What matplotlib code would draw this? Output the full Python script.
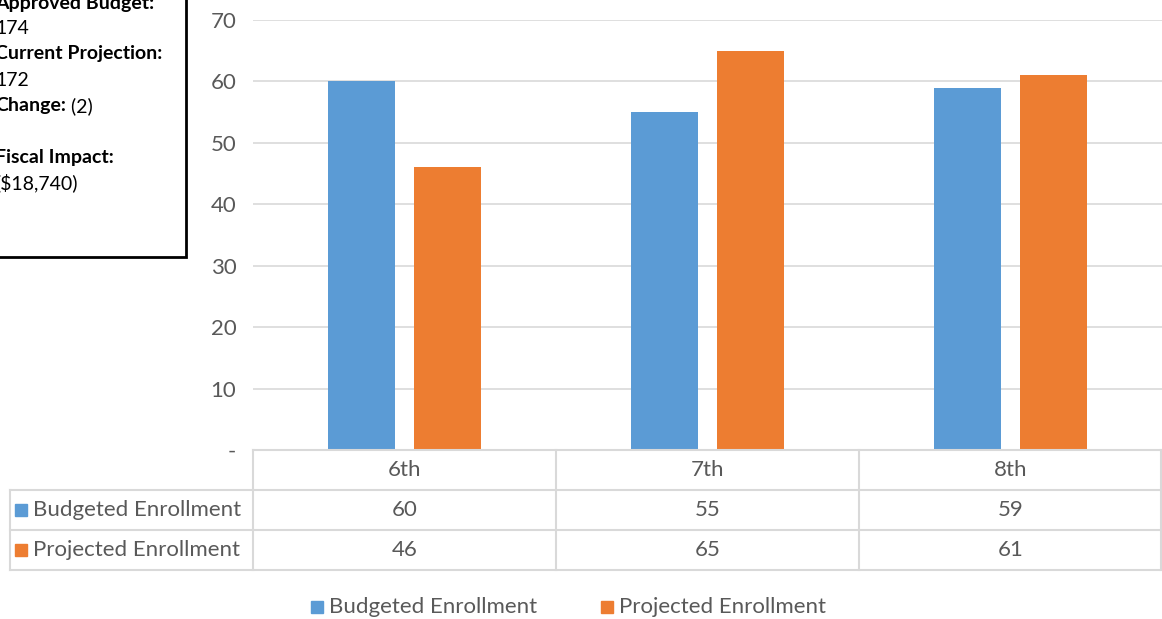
import matplotlib.pyplot as plt
import matplotlib.patches as mpatches
from matplotlib.lines import Line2D
import numpy as np

plt.rcParams['font.family'] = ['Lato', 'DejaVu Sans']

# datos
grados = ['6th', '7th', '8th']
budgeted = [60, 55, 59]
projected = [46, 65, 61]
series = ['Budgeted Enrollment', 'Projected Enrollment']
colores = ['#5B9BD5', '#ED7D31']
ticks = [0, 10, 20, 30, 40, 50, 60, 70]
tick_labels = ['-', '10', '20', '30', '40', '50', '60', '70']
caja = [('Approved Budget:', ''), ('', '174'), ('Current Projection:', ''), ('', '172'),
        ('Change:', ' (2)'), ('', ''), ('Fiscal Impact:', ''), ('', '($18,740)')]

W, H = 1162, 619
gris = '#595959'
linea = '#D9D9D9'
fs = 16

fig = plt.figure(figsize=(W / 100, H / 100), dpi=100)


def fx(px):
    return px / W


def fy(py):
    return 1 - py / H


ax = fig.add_axes([fx(253), fy(450), fx(1162 - 253), fy(20) - fy(450)])
x = np.arange(len(grados))
ancho = 0.22
ax.bar(x - 0.142, budgeted, ancho, color=colores[0])
ax.bar(x + 0.142, projected, ancho, color=colores[1])
ax.set_xlim(-0.5, len(grados) - 0.5)
ax.set_ylim(0, 70)
ax.set_yticks(ticks)
ax.set_yticklabels(tick_labels)
ax.set_xticks([])
ax.tick_params(axis='y', length=0, pad=12, labelsize=fs, labelcolor=gris)
ax.grid(axis='y', color=linea, linewidth=1.2)
ax.set_axisbelow(True)
for s in ax.spines.values():
    s.set_visible(False)

# tabla de datos
col_x = [253, 556, 859, 1162]
filas_y = [450, 490, 530, 570]
kw = dict(color=linea, linewidth=1.5, transform=fig.transFigure)
fig.add_artist(Line2D([fx(253), fx(1162)], [fy(450), fy(450)], **kw))
for yy in filas_y[1:]:
    fig.add_artist(Line2D([fx(10), fx(1162)], [fy(yy), fy(yy)], **kw))
fig.add_artist(Line2D([fx(10), fx(10)], [fy(490), fy(570)], **kw))
for xx in col_x[:-1]:
    fig.add_artist(Line2D([fx(xx), fx(xx)], [fy(450), fy(570)], **kw))
fig.add_artist(Line2D([fx(1161), fx(1161)], [fy(450), fy(570)], **kw))

for i, g in enumerate(grados):
    cx = (col_x[i] + col_x[i + 1]) / 2
    fig.text(fx(cx), fy(470), g, ha='center', va='center', fontsize=fs, color=gris)
    fig.text(fx(cx), fy(510), str(budgeted[i]), ha='center', va='center', fontsize=fs, color=gris)
    fig.text(fx(cx), fy(550), str(projected[i]), ha='center', va='center', fontsize=fs, color=gris)

for j, (nombre, c) in enumerate(zip(series, colores)):
    yc = 510 + 40 * j
    fig.add_artist(mpatches.Rectangle((fx(15), fy(yc + 6)), fx(12), fy(yc - 6) - fy(yc + 6),
                                      color=c, transform=fig.transFigure))
    fig.text(fx(33), fy(yc), nombre, ha='left', va='center', fontsize=fs, color=gris)

# leyenda
leg_items = [(311, series[0], colores[0]), (601, series[1], colores[1])]
for lx, nombre, c in leg_items:
    fig.add_artist(mpatches.Rectangle((fx(lx), fy(613)), fx(12), fy(601) - fy(613),
                                      color=c, transform=fig.transFigure))
    fig.text(fx(lx + 18), fy(607), nombre, ha='left', va='center', fontsize=fs, color=gris)

# caja de texto
fig.add_artist(mpatches.Rectangle((fx(-10), fy(257)), fx(196), fy(-10) - fy(257), fill=False,
                                  edgecolor='black', linewidth=2, transform=fig.transFigure))
ys = [4, 28, 53, 80, 106, 132, 158, 183]
renderer = fig.canvas.get_renderer()
x0 = -5
for (negrita, normal), yy in zip(caja, ys):
    xn = x0
    if negrita:
        t = fig.text(fx(x0), fy(yy), negrita, ha='left', va='center', fontsize=14,
                     fontweight='bold', color='black')
        xn = t.get_window_extent(renderer).x1
    if normal:
        fig.text(fx(xn), fy(yy), normal, ha='left', va='center', fontsize=14, color='black')

fig.savefig('out.png', dpi=100)
